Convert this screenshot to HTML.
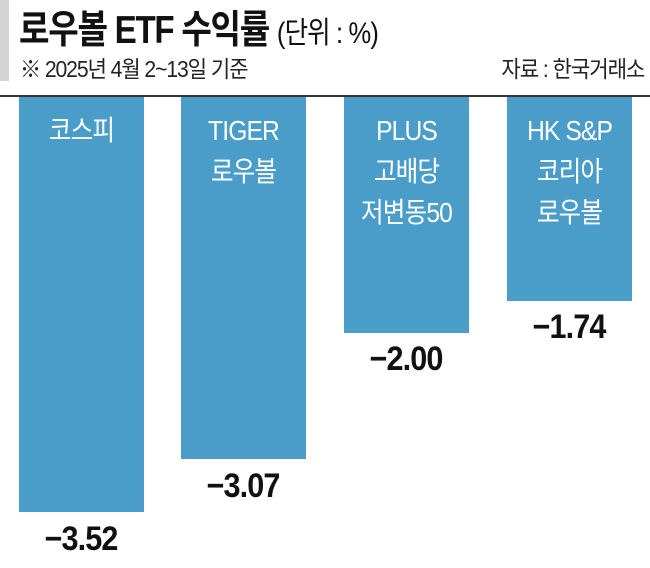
<!DOCTYPE html>
<html><head><meta charset="utf-8"><style>
body{margin:0;width:650px;height:568px;background:#fff;position:relative;overflow:hidden;font-family:"Liberation Sans","Noto Sans CJK KR",sans-serif;}
.a{position:absolute;white-space:nowrap}
.bar{position:absolute;background:#4a9cc9;top:97px;width:125px}
.lb{position:absolute;top:110px;width:125px;text-align:center;color:#fff;font-size:28px;line-height:41px;letter-spacing:-1px;transform:scaleX(0.88)}
.v{position:absolute;width:160px;text-align:center;font-size:34px;font-weight:bold;color:#111;letter-spacing:-1px;transform:scaleX(0.9)}
</style></head><body>
<div class="a" style="left:0;top:0;width:9px;height:81px;background:#d4d4d4"></div>
<div class="a" style="left:19px;top:-1px;font-size:39px;font-weight:bold;letter-spacing:-1.5px;color:#111;transform:scaleX(0.85);transform-origin:left">로우볼 ETF 수익률 <span style="font-size:30px;font-weight:normal;letter-spacing:-1px">(단위 : %)</span></div>
<div class="a" style="left:20px;top:50px;font-size:23px;letter-spacing:-1.2px;color:#222;transform:scaleX(0.92);transform-origin:left">※ 2025년 4월 2~13일 기준</div>
<div class="a" style="right:6px;top:50px;font-size:23px;letter-spacing:-1.2px;color:#222;transform:scaleX(0.92);transform-origin:right">자료 : 한국거래소</div>
<div class="a" style="left:0;top:95px;width:650px;height:2px;background:#333"></div>
<div class="bar" style="left:19px;height:415px"></div>
<div class="bar" style="left:181px;height:362px"></div>
<div class="bar" style="left:344px;height:236px"></div>
<div class="bar" style="left:507px;height:204px"></div>
<div class="lb" style="left:19px">코스피</div>
<div class="lb" style="left:181px">TIGER<br>로우볼</div>
<div class="lb" style="left:344px">PLUS<br>고배당<br>저변동50</div>
<div class="lb" style="left:507px">HK S&amp;P<br>코리아<br>로우볼</div>
<div class="v" style="left:1px;top:520px">−3.52</div>
<div class="v" style="left:163px;top:467px">−3.07</div>
<div class="v" style="left:326px;top:340px">−2.00</div>
<div class="v" style="left:489px;top:308px">−1.74</div>
</body></html>
